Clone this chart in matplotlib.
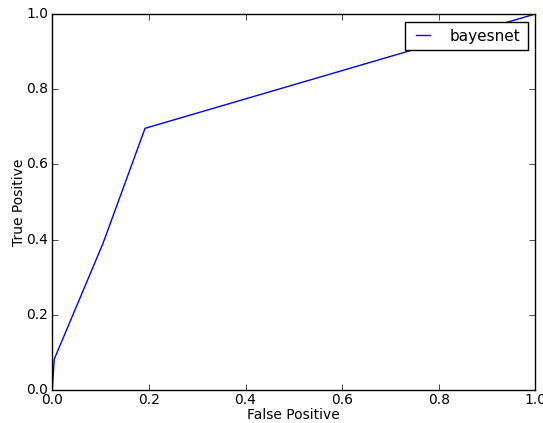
import matplotlib
matplotlib.use('Agg')
import matplotlib.pyplot as plt

# ROC points
fpr = [0.0, 0.004, 0.105, 0.192, 1.0]
tpr = [0.0, 0.082, 0.39, 0.696, 1.0]

plt.style.use('classic')
plt.rcParams['font.size'] = 10
plt.rcParams['xtick.major.pad'] = 2
plt.rcParams['ytick.major.pad'] = 3

fig = plt.figure(figsize=(5.43, 4.23), dpi=100, facecolor='white')
ax = fig.add_axes([52.3 / 543, 33 / 423, 483 / 543, 376 / 423])
ax.plot(fpr, tpr, color='blue', lw=1, label='bayesnet')
ax.set_xlim(0, 1)
ax.set_ylim(0, 1)
ax.set_xticks([0, 0.2, 0.4, 0.6, 0.8, 1.0])
ax.set_yticks([0, 0.2, 0.4, 0.6, 0.8, 1.0])
ax.set_xlabel('False Positive', labelpad=1)
ax.set_ylabel('True Positive', labelpad=0)
ax.legend(loc='upper right', fontsize=11, handlelength=1.5, handletextpad=1.0,
          borderpad=0.45, borderaxespad=0.5)
fig.savefig('out.png', dpi=100, facecolor='white')
